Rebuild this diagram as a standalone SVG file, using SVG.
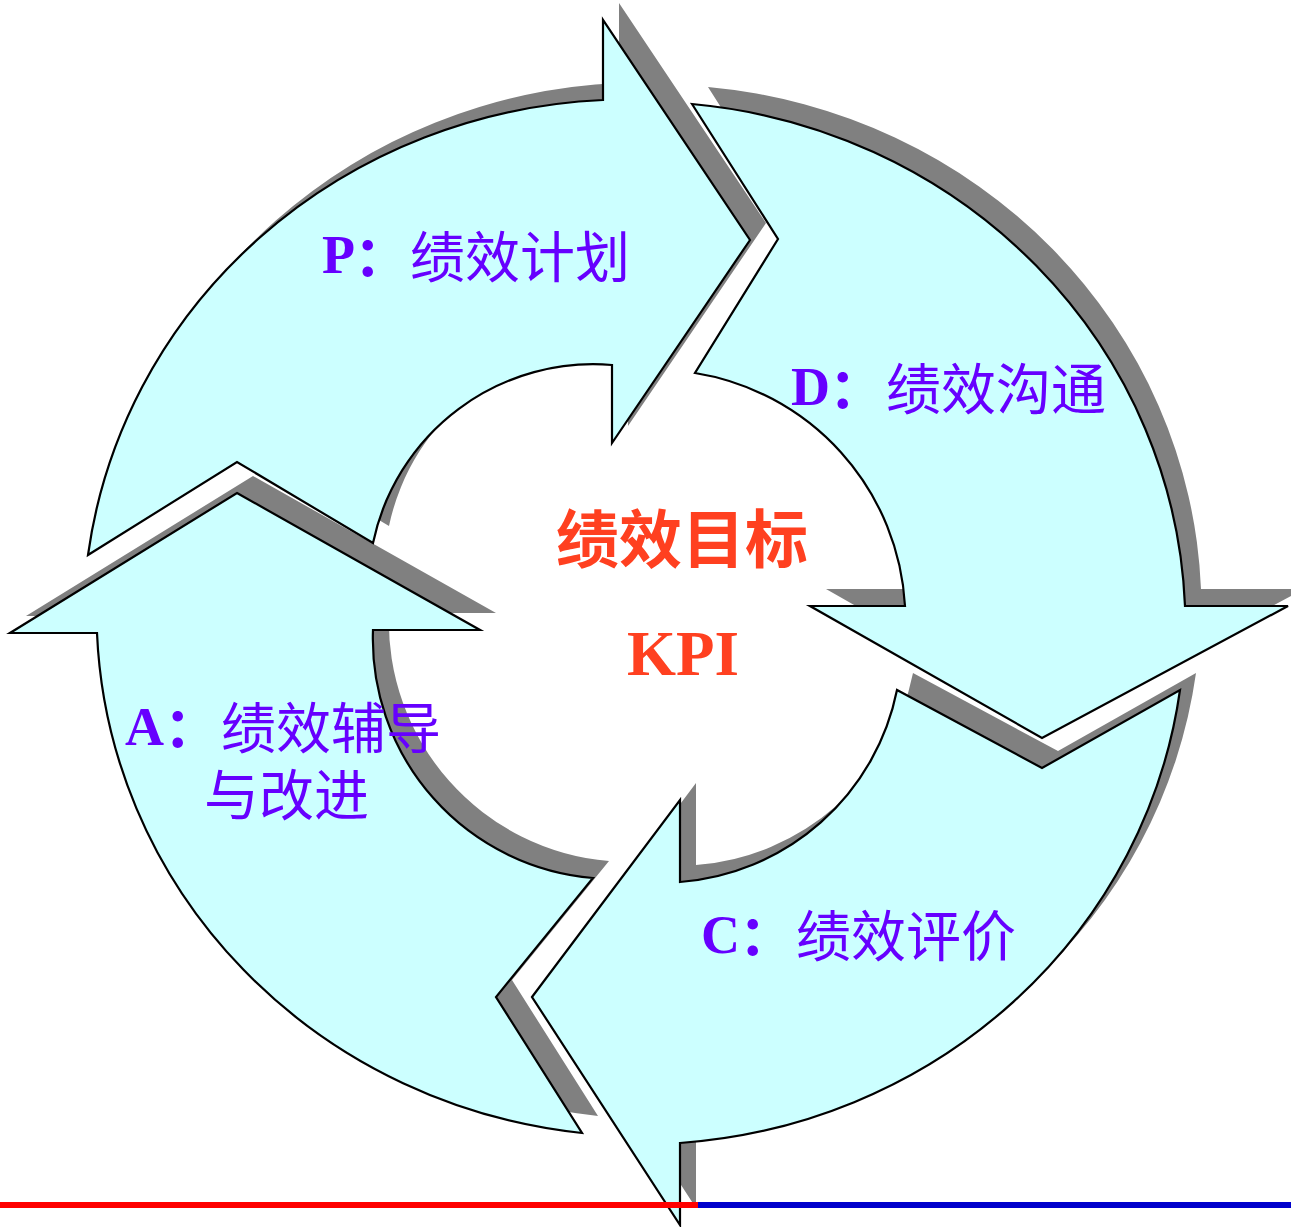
<svg xmlns="http://www.w3.org/2000/svg" xmlns:xlink="http://www.w3.org/1999/xlink" width="1291" height="1227" viewBox="0 0 1291 1227">
<style>
.shadow{fill:#808080;stroke:none}
.arrow{fill:#CCFFFF;stroke:#000;stroke-width:2.2;stroke-linejoin:miter}
.lbl{fill:#6600FF}
.lat{font-family:"Liberation Serif","Times New Roman",serif;font-weight:bold;font-size:54px}
.cjk{font-family:"Noto Sans CJK SC","Noto Sans CJK JP",sans-serif;font-size:55px}
.colon{font-weight:bold}
.center{fill:#FF4020}
</style>
<defs>
<path id="pP" d="M 88,555 L 237,462 L 373,543 A 225 225 0 0 1 612,365 L 612,443 L 750,240 L 603,20 L 603,100 A 545 525 0 0 0 88,555 Z"/>
<path id="pD" d="M 692,104 L 778,239 L 695,373 A 250 250 0 0 1 905,606 L 810,606 L 1042,738 L 1288,606 L 1185,606 A 545 525 0 0 0 692,104 Z"/>
<path id="pC" d="M 532,997 L 680,800 L 680,882 A 240 240 0 0 0 897,690 L 1042,768 L 1180,690 A 545 525 0 0 1 680,1143 L 680,1225 Z"/>
<path id="pA" d="M 237,493 L 480,630 L 373,630 A 240 240 0 0 0 593,878 L 496,997 L 582,1133 A 545 525 0 0 1 97,633 L 10,633 Z"/>
</defs>
<rect width="1291" height="1227" fill="#FFFFFF"/>
<g id="shadows" transform="translate(16,-17)">
<use xlink:href="#pP" class="shadow"/>
<use xlink:href="#pD" class="shadow"/>
<use xlink:href="#pC" class="shadow"/>
<use xlink:href="#pA" class="shadow"/>
</g>
<g id="node-P">
<use xlink:href="#pP" class="arrow"/>
<text class="lbl"><tspan class="lat" x="322" y="273">P</tspan><tspan class="cjk colon" x="354" y="276">：</tspan><tspan class="cjk" x="410" y="277">绩效计划</tspan></text>
</g>
<g id="node-D">
<use xlink:href="#pD" class="arrow"/>
<text class="lbl"><tspan class="lat" x="791" y="405">D</tspan><tspan class="cjk colon" x="829" y="408">：</tspan><tspan class="cjk" x="886" y="409">绩效沟通</tspan></text>
</g>
<g id="node-C">
<use xlink:href="#pC" class="arrow"/>
<text class="lbl"><tspan class="lat" x="701" y="953">C</tspan><tspan class="cjk colon" x="739" y="955">：</tspan><tspan class="cjk" x="796" y="956">绩效评价</tspan></text>
</g>
<g id="node-A">
<use xlink:href="#pA" class="arrow"/>
<text class="lbl"><tspan class="lat" x="125" y="745">A</tspan><tspan class="cjk colon" x="164" y="747">：</tspan><tspan class="cjk" x="221" y="748">绩效辅导</tspan></text>
<text class="lbl cjk" x="204" y="815">与改进</text>
</g>
<g id="node-KPI">
<text class="center" x="556" y="562" font-family="Noto Sans CJK SC, sans-serif" font-weight="bold" font-size="63">绩效目标</text>
<text class="center" x="627" y="675" font-family="Liberation Serif, serif" font-weight="bold" font-size="63">KPI</text>
</g>
<g id="footer-lines">
<rect x="0" y="1202" width="698" height="6" fill="#FF0000"/>
<rect x="698" y="1202" width="593" height="6" fill="#0000CC"/>
</g>
</svg>
